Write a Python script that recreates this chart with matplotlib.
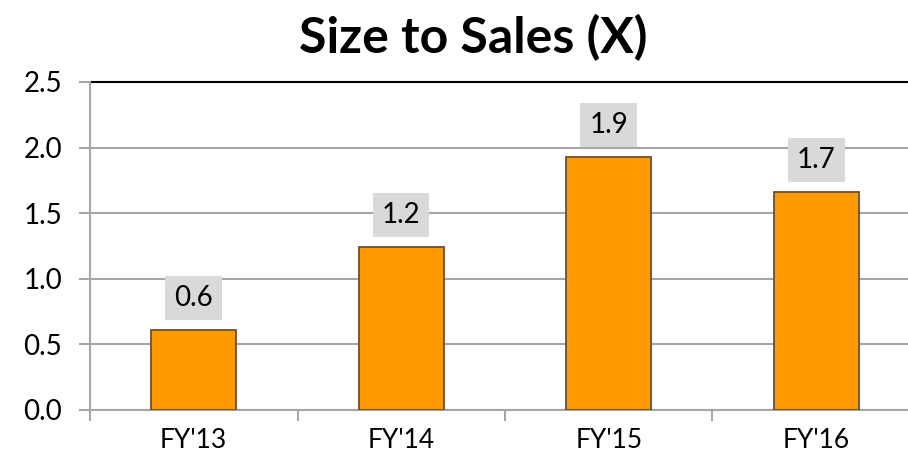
import matplotlib
matplotlib.use("Agg")
import matplotlib.pyplot as plt

categories = ["FY'13", "FY'14", "FY'15", "FY'16"]
values = [0.61, 1.24, 1.93, 1.66]
labels = ["0.6", "1.2", "1.9", "1.7"]
yticks = [0.0, 0.5, 1.0, 1.5, 2.0, 2.5]

plt.rcParams['font.family'] = ['Lato', 'DejaVu Sans']

fig = plt.figure(figsize=(9.08, 4.62), dpi=100)
ax = fig.add_axes([90/908, 1-410/462, 830/908, (410-82)/462])

x = list(range(len(categories)))
ax.bar(x, values, width=0.41, color='#FF9900', edgecolor='#6b5030', linewidth=1.3, zorder=3)

ax.set_xlim(-0.5, len(categories) - 0.5)
ax.set_ylim(0, 2.5)
ax.set_yticks(yticks)
ax.set_yticklabels([f"{t:.1f}" for t in yticks], fontsize=20)
for t in yticks[:-1]:
    ax.axhline(t, color='#a6a6a6', linewidth=1.5, zorder=1)
ax.axhline(2.5, color='#000000', linewidth=1.5, zorder=1, clip_on=False)

ax.set_xticks(x)
ax.set_xticklabels(categories, fontsize=19)
ax.tick_params(axis='x', length=0, pad=13)
ax.set_xticks([i + 0.5 for i in range(-1, len(categories))], minor=True)
ax.tick_params(axis='x', which='minor', length=8, color='#a6a6a6', width=1.5)
ax.tick_params(axis='y', length=8, color='#a6a6a6', width=1.5, pad=12)

for s in ['top', 'right']:
    ax.spines[s].set_visible(False)
ax.spines['left'].set_color('#a6a6a6')
ax.spines['left'].set_linewidth(1.5)
ax.spines['bottom'].set_color('#a6a6a6')
ax.spines['bottom'].set_linewidth(1.5)

for xi, v, lab in zip(x, values, labels):
    ax.annotate(lab, (xi, v), xytext=(0, 23), textcoords='offset points',
                ha='center', va='center', fontsize=20, zorder=4,
                bbox=dict(boxstyle='square,pad=0.32', facecolor='#d9d9d9', edgecolor='none'))

fig.text(473/908, 1-38/462, "Size to Sales (X)", ha='center', va='center',
         fontsize=36, fontweight='bold')

fig.savefig("out.png", dpi=100)
